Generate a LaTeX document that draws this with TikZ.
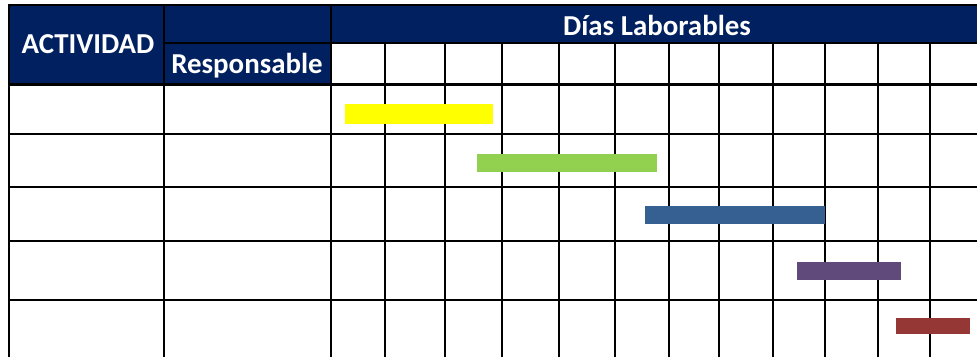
\documentclass[tikz,border=0pt]{standalone}
\usepackage{fontspec}
\setmainfont{Carlito}
\definecolor{navy}{HTML}{002060}
\definecolor{baryellow}{HTML}{FFFF00}
\definecolor{bargreen}{HTML}{92D050}
\definecolor{barblue}{HTML}{366092}
\definecolor{barpurple}{HTML}{604A7B}
\definecolor{barred}{HTML}{953735}
\begin{document}
\begin{tikzpicture}[x=1bp,y=-1bp,
  gridline/.style={line width=2bp, black},
  hdr/.style={font=\bfseries\fontsize{29}{30}\selectfont, text=white, inner sep=0pt, anchor=base},
  barfill/.style={fill=#1, draw=none}]
\useasboundingbox (0,0) rectangle (977,357);
\fill[white] (0,0) rectangle (977,357);
% header background
\fill[navy] (9,5) rectangle (977,84);
\fill[white] (331,43) rectangle (977,84);
% horizontal lines
\draw[gridline] (8,5) -- (977,5);
\draw[gridline] (164,43) -- (977,43);
\draw[line width=3bp] (8,84) -- (977,84);
\foreach \y in {134,187,241,300} \draw[gridline] (9,\y) -- (977,\y);
% vertical lines
\foreach \x in {9,164,331} \draw[gridline] (\x,4) -- (\x,357);
\foreach \x in {385,445,502,559,615,669,719,773,825,878,930} \draw[gridline] (\x,43) -- (\x,357);
% bars
\fill[barfill=baryellow] (345,104) rectangle (493,124);
\fill[barfill=bargreen] (477,154) rectangle (657,172);
\fill[barfill=barblue] (645,206) rectangle (825,224);
\fill[barfill=barpurple] (797,262) rectangle (901,280);
\fill[barfill=barred] (896,318) rectangle (970,334);
% texts
\node[hdr] (act) at (88,53) {ACTIVIDAD};
\node[hdr] (resp) at (247,73) {Responsable};
\node[hdr] (dias) at (657,35) {Días Laborables};
\end{tikzpicture}
\end{document}
